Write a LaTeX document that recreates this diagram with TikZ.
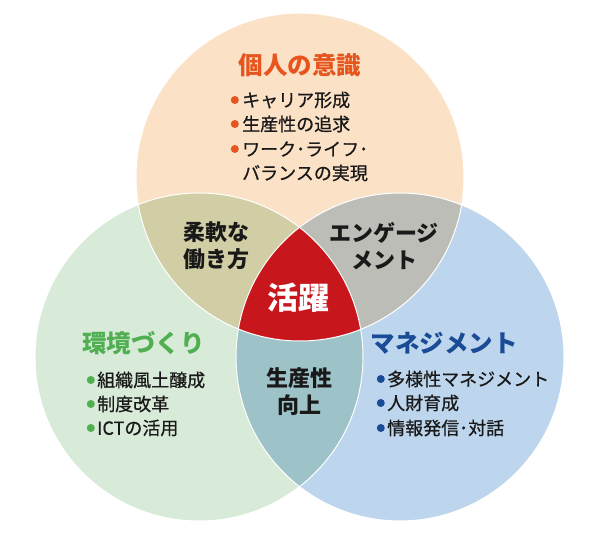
\documentclass[tikz,border=0pt]{standalone}
\usepackage{fontspec}
\setmainfont{Noto Sans CJK JP}
\newfontfamily\itemfont{Noto Sans CJK JP}[FakeBold=0.6]
\usetikzlibrary{positioning}
\definecolor{peachfill}{RGB}{251,226,199}
\definecolor{greenfill}{RGB}{216,234,216}
\definecolor{bluefill}{RGB}{189,214,238}
\definecolor{khakifill}{RGB}{209,205,165}
\definecolor{grayfill}{RGB}{189,189,184}
\definecolor{tealfill}{RGB}{157,194,200}
\definecolor{redfill}{RGB}{200,22,29}
\definecolor{orangetext}{RGB}{230,85,30}
\definecolor{greentext}{RGB}{80,175,80}
\definecolor{bluetext}{RGB}{25,75,150}

\begin{document}
\begin{tikzpicture}[x=1pt,y=1pt,
  title/.style={font=\fontsize{24.5}{28}\selectfont\bfseries},
  item/.style={anchor=west,inner sep=0pt,text=black!90,font=\fontsize{18}{22}\selectfont\itemfont},
  dot/.style={circle,inner sep=0pt,minimum size=8pt},
  overlap/.style={align=center,text=black!90,font=\fontsize{22}{27}\selectfont\bfseries}]
\useasboundingbox (0,0) rectangle (600,534);
% the three circles
\coordinate (ctop) at (300,357);
\coordinate (cleft) at (199,177);
\coordinate (cright) at (400,177);
\fill[peachfill] (ctop) circle (164pt);
\fill[greenfill] (cleft) circle (164pt);
\fill[bluefill] (cright) circle (164pt);
\begin{scope}
  \clip (ctop) circle (164pt);
  \fill[khakifill] (cleft) circle (164pt);
  \fill[grayfill] (cright) circle (164pt);
\end{scope}
\begin{scope}
  \clip (cleft) circle (164pt);
  \fill[tealfill] (cright) circle (164pt);
\end{scope}
\begin{scope}
  \clip (ctop) circle (164pt);
  \clip (cleft) circle (164pt);
  \fill[redfill] (cright) circle (164pt);
\end{scope}
\foreach \c in {ctop,cleft,cright}
  \draw[white,line width=1pt] (\c) circle (164pt);

% top circle
\node[title,text=orangetext] (indiv) at (300,469) {個人の意識};
\foreach \t/\y [count=\i] in {キャリア形成/434,生産性の追求/410,ワーク･ライフ･/385}{
  \node[item] (ind\i) at (242,\y) {\t};
  \node[dot,fill=orangetext,left=3pt of ind\i] (inddot\i) {};
}
\node[item] (ind4) at (242,361) {バランスの実現};

% left circle
\node[title,text=greentext] (envir) at (143.5,191) {環境づくり};
\foreach \t/\y [count=\i] in {組織風土醸成/154,制度改革/130,ICTの活用/106}{
  \node[item] (env\i) at (97,\y) {\t};
  \node[dot,fill=greentext,left=2pt of env\i] (envdot\i) {};
}

% right circle
\node[title,text=bluetext] (manag) at (444,191) {マネジメント};
\foreach \t/\y [count=\i] in {多様性マネジメント/155,人財育成/131,情報発信･対話/106}{
  \node[item] (man\i) at (387,\y) {\t};
  \node[dot,fill=bluetext,left=2pt of man\i] (mandot\i) {};
}

% overlaps
\node[overlap] (flex) at (216,288) {柔軟な\\働き方};
\node[overlap] (engage) at (384,288) {エンゲージ\\メント};
\node[overlap] (prod) at (299,142) {生産性\\向上};
\node[text=white,font=\fontsize{31}{34}\selectfont\bfseries] (active) at (298,236) {活躍};
\end{tikzpicture}
\end{document}
